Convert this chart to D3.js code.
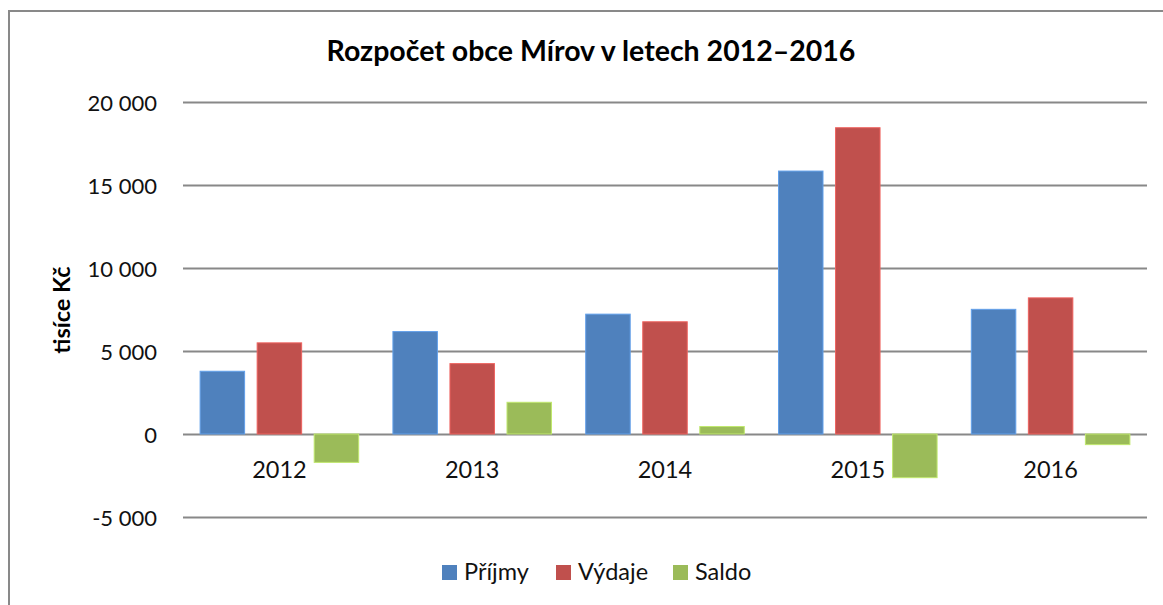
<!DOCTYPE html>
<html>
<head>
<meta charset="utf-8">
<script src="https://cdn.jsdelivr.net/npm/d3@7"></script>
<style>
body { margin: 0; background: #fff; }
svg { display: block; font-family: Lato, "Noto Sans", sans-serif; }
</style>
</head>
<body>
<div id="chart"></div>
<script>
const years = ['2012', '2013', '2014', '2015', '2016'];
const series = ['Příjmy', 'Výdaje', 'Saldo'];
const prijmy = [3780, 6170, 7220, 15840, 7510];
const vydaje = [5490, 4240, 6760, 18450, 8200];
const saldo = [-1710, 1910, 450, -2630, -640];
const yTicks = [-5000, 0, 5000, 10000, 15000, 20000];
const colors = ['#4f81bd', '#c0504d', '#9bbb59'];

const values = [prijmy, vydaje, saldo];
const W = 1163, H = 605;

let svg = d3.select('#chart')
    .append('svg')
    .attr('width', W)
    .attr('height', H);

// frame
svg.append('path')
    .attr('d', `M9,${H + 5}V11H${W + 5}`)
    .attr('fill', 'none')
    .attr('stroke', '#898989')
    .attr('stroke-width', 2);

const x0 = d3.scaleBand().domain(years).range([183, 1147]);
const x1 = d3.scaleBand().domain(series).range([0, x0.bandwidth()])
    .paddingInner(0.22).paddingOuter(0.3);
const y = d3.scaleLinear().domain([-5000, 20000]).range([517, 102]);

const fmt = d => d3.format(',')(d).replace(/,/g, ' ').replace('−', '-');

// grid
svg.append('g')
    .selectAll('line')
    .data(yTicks)
    .join('line')
    .attr('x1', x0.range()[0])
    .attr('x2', x0.range()[1])
    .attr('y1', d => Math.round(y(d)) + 0.5)
    .attr('y2', d => Math.round(y(d)) + 0.5)
    .attr('stroke', '#888')
    .attr('stroke-width', 2);

svg.append('g')
    .selectAll('text')
    .data(yTicks)
    .join('text')
    .attr('x', 157)
    .attr('y', d => y(d))
    .attr('dy', '0.4em')
    .attr('text-anchor', 'end')
    .attr('font-size', 22)
    .attr('fill', '#111')
    .text(fmt);

// bars
const rows = [];
years.forEach((yr, i) => series.forEach((s, j) => rows.push({yr, s, j, v: values[j][i]})));

svg.append('g')
    .selectAll('rect')
    .data(rows)
    .join('rect')
    .attr('x', d => x0(d.yr) + x1(d.s))
    .attr('width', x1.bandwidth())
    .attr('y', d => y(Math.max(0, d.v)))
    .attr('height', d => Math.abs(y(d.v) - y(0)))
    .attr('fill', d => colors[d.j])
    .attr('stroke', d => d3.color(colors[d.j]).brighter(0.6))
    .attr('stroke-width', 1);

// x labels
svg.append('g')
    .selectAll('text')
    .data(years)
    .join('text')
    .attr('x', d => x0(d) + x0.bandwidth() / 2)
    .attr('y', 478)
    .attr('text-anchor', 'middle')
    .attr('font-size', 23.5)
    .attr('fill', '#111')
    .text(d => d);

// title
svg.append('text')
    .attr('x', 591)
    .attr('y', 61)
    .attr('text-anchor', 'middle')
    .attr('font-size', 28.5)
    .attr('font-weight', 'bold')
    .attr('fill', '#000')
    .text('Rozpočet obce Mírov v letech 2012–2016');

// y title
svg.append('text')
    .attr('transform', 'translate(70,310) rotate(-90)')
    .attr('text-anchor', 'middle')
    .attr('font-size', 23.5)
    .attr('font-weight', 'bold')
    .attr('fill', '#000')
    .text('tisíce Kč');

// legend
const legX = [442, 556, 673];
let leg = svg.append('g')
    .selectAll('g')
    .data(series)
    .join('g')
    .attr('transform', (d, i) => `translate(${legX[i]},565)`);
leg.append('rect')
    .attr('width', 15)
    .attr('height', 15)
    .attr('fill', (d, i) => colors[i]);
leg.append('text')
    .attr('x', 22)
    .attr('y', 15)
    .attr('font-size', 23.5)
    .attr('fill', '#111')
    .text(d => d);
</script>
</body>
</html>
